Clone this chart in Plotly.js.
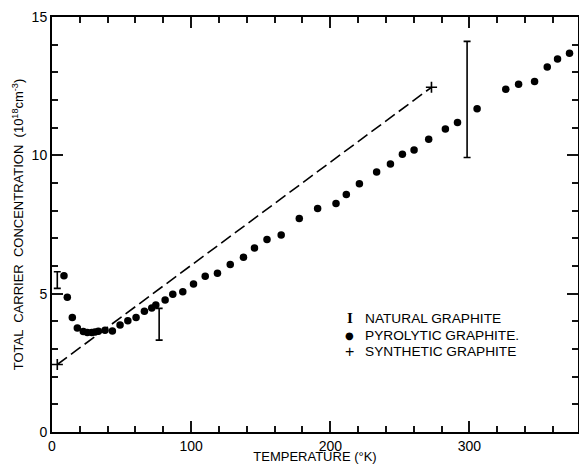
<!DOCTYPE html>
<html>
<head>
<meta charset="utf-8">
<script src="https://cdn.plot.ly/plotly-3.0.1.min.js"></script>
<style>html,body{margin:0;padding:0;background:#fff;}#chart{width:579px;height:464px;}</style>
</head>
<body>
<div id="chart"></div>
<script>
// Pyrolytic graphite (dots)
var pyroT = [8.6, 11.0, 14.6, 18.2, 22.5, 25.4, 28.6, 30.9, 33.3, 38.1, 43.4, 48.9, 54.5, 60.4, 66.4, 71.7, 74.6, 81.3, 86.8, 94.0, 101.7, 110.1, 118.9, 128.1, 137.6, 145.5, 154.5, 164.7, 177.7, 190.9, 204.1, 211.5, 220.9, 233.3, 243.2, 251.8, 260.2, 270.7, 282.7, 291.4, 305.5, 326.1, 335.3, 346.8, 355.9, 363.3, 371.9];
var pyroN = [5.65, 4.87, 4.14, 3.76, 3.63, 3.60, 3.60, 3.61, 3.64, 3.68, 3.65, 3.87, 4.02, 4.14, 4.36, 4.48, 4.59, 4.77, 4.98, 5.07, 5.35, 5.63, 5.74, 6.05, 6.32, 6.65, 6.96, 7.12, 7.72, 8.08, 8.26, 8.58, 8.97, 9.40, 9.69, 10.04, 10.19, 10.58, 10.95, 11.19, 11.68, 12.39, 12.57, 12.67, 13.19, 13.48, 13.69];
// Natural graphite (range bars)
var natT = [3.8, 77, 298.3];
var natLow = [5.19, 3.32, 9.92];
var natHigh = [5.79, 4.47, 14.12];
// Synthetic graphite (dashed line between end points)
var synT = [3.8, 272.7];
var synN = [2.44, 12.46];
// Axis ticks (major values; minor steps)
var xTickVals = [0, 100, 200, 300];
var yTickVals = [0, 5, 10, 15];
var xMinorStep = 20;
var yMinorStep = 1;
// Legend labels
var legendLabels = ['NATURAL GRAPHITE', 'PYROLYTIC GRAPHITE.', 'SYNTHETIC GRAPHITE'];

var XR = [0, 378], YR = [0, 15];
var natMid = natT.map(function(_, i){ return (natLow[i] + natHigh[i]) / 2; });
var natPlus = natT.map(function(_, i){ return natHigh[i] - natMid[i]; });
var natMinus = natT.map(function(_, i){ return natMid[i] - natLow[i]; });

var FONT = 'Liberation Sans, Arial, sans-serif';

var traces = [
  {
    x: synT, y: synN, type: 'scatter', mode: 'lines+markers',
    line: {color: '#000', width: 1.6, dash: '12px,5px'},
    marker: {symbol: 'cross-thin', size: 8, line: {color: '#000', width: 1.6}},
    hoverinfo: 'skip', showlegend: false
  },
  {
    x: natT, y: natMid, type: 'scatter', mode: 'markers',
    marker: {size: 1, color: 'rgba(0,0,0,0)'},
    error_y: {type: 'data', symmetric: false, array: natPlus, arrayminus: natMinus,
              color: '#000', thickness: 1.6, width: 3.5},
    showlegend: false
  },
  {
    x: pyroT, y: pyroN, type: 'scatter', mode: 'markers',
    marker: {size: 7.5, color: '#000'},
    showlegend: false
  }
];

var layout = {
  width: 579, height: 464,
  margin: {l: 52, r: 1, t: 17, b: 32},
  showlegend: false,
  xaxis: {
    range: XR, dtick: xTickVals[1] - xTickVals[0], tick0: xTickVals[0],
    showline: true, linecolor: 'rgb(0,0,0)', linewidth: 2, mirror: 'allticks',
    ticks: 'inside', ticklen: 11, tickwidth: 2, tickcolor: 'rgb(20,20,20)',
    minor: {dtick: xMinorStep, ticklen: 6, tickwidth: 2, tickcolor: 'rgb(20,20,20)', ticks: 'inside'},
    showgrid: false, zeroline: false,
    tickfont: {family: FONT, size: 14, color: '#000'},
    title: {text: 'TEMPERATURE (°K)', font: {family: FONT, size: 13, color: '#000'}, standoff: 2}
  },
  yaxis: {
    range: YR, dtick: yTickVals[1] - yTickVals[0], tick0: yTickVals[0],
    showline: true, linecolor: 'rgb(0,0,0)', linewidth: 2, mirror: 'allticks',
    ticks: 'inside', ticklen: 11, tickwidth: 2, tickcolor: 'rgb(20,20,20)',
    minor: {dtick: yMinorStep, ticklen: 6, tickwidth: 2, tickcolor: 'rgb(20,20,20)', ticks: 'inside'},
    showgrid: false, zeroline: false,
    tickfont: {family: FONT, size: 14, color: '#000'},
    title: {text: 'TOTAL  CARRIER  CONCENTRATION  (10<sup>18</sup>cm<sup>-3</sup>)', font: {family: FONT, size: 13, color: '#000'}, standoff: 5}
  },
  annotations: [
    {xref: 'paper', yref: 'paper', x: (349-52)/525, y: (431.5-318)/414.5, text: '<b>I</b>', showarrow: false, xanchor: 'center', yanchor: 'middle', font: {family: 'Liberation Serif, serif', size: 15, color: '#000'}},
    {xref: 'paper', yref: 'paper', x: (349-52)/525, y: (431.5-335)/414.5, text: '●', showarrow: false, xanchor: 'center', yanchor: 'middle', font: {family: 'DejaVu Sans, sans-serif', size: 10, color: '#000'}},
    {xref: 'paper', yref: 'paper', x: (349-52)/525, y: (431.5-351)/414.5, text: '+', showarrow: false, xanchor: 'center', yanchor: 'middle', font: {family: FONT, size: 16, color: '#000'}},
    {xref: 'paper', yref: 'paper', x: (362-52)/525, y: (431.5-318)/414.5, text: legendLabels[0], showarrow: false, xanchor: 'left', yanchor: 'middle', font: {family: FONT, size: 13.7, color: '#000'}},
    {xref: 'paper', yref: 'paper', x: (362-52)/525, y: (431.5-335)/414.5, text: legendLabels[1], showarrow: false, xanchor: 'left', yanchor: 'middle', font: {family: FONT, size: 13.7, color: '#000'}},
    {xref: 'paper', yref: 'paper', x: (362-52)/525, y: (431.5-351)/414.5, text: legendLabels[2], showarrow: false, xanchor: 'left', yanchor: 'middle', font: {family: FONT, size: 13.7, color: '#000'}}
  ]
};

Plotly.newPlot('chart', traces, layout, {displayModeBar: false, staticPlot: true});
</script>
</body>
</html>
